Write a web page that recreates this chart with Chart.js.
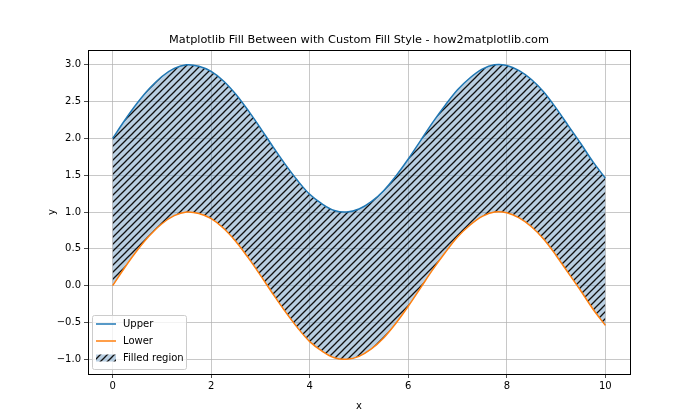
<!DOCTYPE html>
<html>
<head>
<meta charset="utf-8">
<script src="https://cdn.jsdelivr.net/npm/chart.js@4.4.1/dist/chart.umd.min.js"></script>
<style>
  html, body { margin: 0; padding: 0; background: #fff; }
  #wrap { width: 700px; height: 420px; position: relative; }
</style>
</head>
<body>
<div id="wrap"><canvas id="fillChart"></canvas></div>
<script>
// values
const xValues = [0, 0.25, 0.5, 0.75, 1, 1.25, 1.5, 1.75, 2, 2.25, 2.5, 2.75, 3, 3.25, 3.5, 3.75, 4, 4.25, 4.5, 4.75,
    5, 5.25, 5.5, 5.75, 6, 6.25, 6.5, 6.75, 7, 7.25, 7.5, 7.75, 8, 8.25, 8.5, 8.75, 9, 9.25, 9.5, 9.75, 10];
const upperValues = [2.00, 2.25, 2.48, 2.68, 2.84, 2.95, 3.00, 2.98, 2.91, 2.78, 2.60, 2.38, 2.14, 1.89, 1.65, 1.43,
    1.24, 1.11, 1.02, 1.00, 1.04, 1.14, 1.29, 1.49, 1.72, 1.97, 2.22, 2.45, 2.66, 2.82, 2.94, 3.00, 2.99, 2.92,
    2.80, 2.63, 2.41, 2.17, 1.93, 1.68, 1.46];
const lowerValues = [0.00, 0.25, 0.48, 0.68, 0.84, 0.95, 1.00, 0.98, 0.91, 0.78, 0.60, 0.38, 0.14, -0.11, -0.35, -0.57,
    -0.76, -0.89, -0.98, -1.00, -0.96, -0.86, -0.71, -0.51, -0.28, -0.03, 0.22, 0.45, 0.66, 0.82, 0.94, 1.00, 0.99,
    0.92, 0.80, 0.63, 0.41, 0.17, -0.07, -0.32, -0.54];
const xTicks = [0, 2, 4, 6, 8, 10];
const yTicks = [-1.0, -0.5, 0.0, 0.5, 1.0, 1.5, 2.0, 2.5, 3.0];
const seriesNames = ['Upper', 'Lower', 'Filled region'];

const BLUE = '#1f77b4';
const ORANGE = '#ff7f0e';
const FILL_BG = 'rgba(70,130,180,0.38)';
const FONT = "'DejaVu Sans', sans-serif";

function hatchPattern(ctx) {
    const s = 7;
    const c = document.createElement('canvas');
    c.width = s; c.height = s;
    const g = c.getContext('2d');
    g.fillStyle = FILL_BG;
    g.fillRect(0, 0, s, s);
    g.strokeStyle = '#111';
    g.lineWidth = 1.3;
    g.beginPath();
    g.moveTo(-1, s + 1); g.lineTo(s + 1, -1);
    g.moveTo(-1, 1); g.lineTo(1, -1);
    g.moveTo(s - 1, s + 1); g.lineTo(s + 1, s - 1);
    g.stroke();
    return ctx.createPattern(c, 'repeat');
}

const canvas = document.getElementById('fillChart');
const ctx = canvas.getContext('2d');
const hatch = hatchPattern(ctx);

const pts = vals => xValues.map((x, i) => ({ x: x, y: vals[i] }));

const framePlugin = {
    id: 'frame',
    afterDatasetsDraw(chart) {
        const a = chart.chartArea;
        const c = chart.ctx;
        c.save();
        c.strokeStyle = '#000';
        c.lineWidth = 1;
        c.strokeRect(Math.round(a.left) + 0.5, Math.round(a.top) + 0.5,
            Math.round(a.right - a.left), Math.round(a.bottom - a.top));
        c.fillStyle = '#000';
        c.font = '11.3px ' + FONT;
        c.textAlign = 'center';
        c.textBaseline = 'middle';
        c.fillText('Matplotlib Fill Between with Custom Fill Style - how2matplotlib.com', (a.left + a.right) / 2, 40);
        // y axis label
        c.font = '10px ' + FONT;
        c.translate(52, (a.top + a.bottom) / 2);
        c.rotate(-Math.PI / 2);
        c.fillText('y', 0, 0);
        c.restore();
    },
    afterDraw(chart) {
        // legend box, lower left inside the axes
        const c = chart.ctx;
        const x0 = 92, y0 = 315, w = 94, h = 54;
        c.save();
        c.fillStyle = 'rgba(255,255,255,0.8)';
        c.strokeStyle = '#cccccc';
        c.lineWidth = 1;
        c.beginPath();
        c.roundRect(x0 + 0.5, y0 + 0.5, w, h, 2);
        c.fill();
        c.stroke();
        const rows = [324, 341, 358];
        c.lineWidth = 1.5;
        c.strokeStyle = BLUE;
        c.beginPath(); c.moveTo(96, rows[0]); c.lineTo(116, rows[0]); c.stroke();
        c.strokeStyle = ORANGE;
        c.beginPath(); c.moveTo(96, rows[1]); c.lineTo(116, rows[1]); c.stroke();
        c.fillStyle = hatch;
        c.fillRect(96, rows[2] - 3.5, 20, 7);
        c.fillStyle = '#000';
        c.font = '10px ' + FONT;
        c.textAlign = 'left';
        c.textBaseline = 'middle';
        seriesNames.forEach((n, i) => c.fillText(n, 123, rows[i]));
        c.restore();
    }
};

new Chart(canvas, {
    type: 'line',
    data: {
        datasets: [{
            label: seriesNames[0],
            data: pts(upperValues),
            borderColor: BLUE,
            borderWidth: 1.5,
            pointRadius: 0,
            tension: 0.35,
            fill: '+1',
            backgroundColor: hatch
        }, {
            label: seriesNames[1],
            data: pts(lowerValues),
            borderColor: ORANGE,
            borderWidth: 1.5,
            pointRadius: 0,
            tension: 0.35,
            fill: false
        }]
    },
    options: {
        responsive: true,
        maintainAspectRatio: false,
        animation: false,
        events: [],
        layout: { padding: { left: 0, right: 70, top: 50, bottom: 0 } },
        plugins: {
            legend: { display: false },
            title: { display: false },
            tooltip: { enabled: false },
            filler: { drawTime: 'beforeDatasetsDraw' }
        },
        scales: {
            x: {
                type: 'linear',
                min: -0.5,
                max: 10.5,
                afterBuildTicks: s => { s.ticks = xTicks.map(v => ({ value: v })); },
                afterFit: s => { s.height = 46; },
                grid: { color: '#b0b0b0', lineWidth: 0.7, tickColor: '#000', tickLength: 4 },
                border: { display: false },
                ticks: {
                    color: '#000', font: { family: FONT, size: 10 }, padding: 2,
                    maxRotation: 0, callback: v => String(v)
                },
                title: { display: true, text: 'x', color: '#000', font: { family: FONT, size: 10 }, padding: { top: 0, bottom: 8 } }
            },
            y: {
                type: 'linear',
                min: -1.2,
                max: 3.2,
                afterBuildTicks: s => { s.ticks = yTicks.map(v => ({ value: v })); },
                afterFit: s => { s.width = 88; },
                grid: { color: '#b0b0b0', lineWidth: 0.7, tickColor: '#000', tickLength: 4 },
                border: { display: false },
                ticks: {
                    color: '#000', font: { family: FONT, size: 10 }, padding: 3,
                    callback: v => v.toFixed(1).replace('-', '\u2212')
                },
                title: { display: false }
            }
        }
    },
    plugins: [framePlugin]
});
</script>
</body>
</html>
